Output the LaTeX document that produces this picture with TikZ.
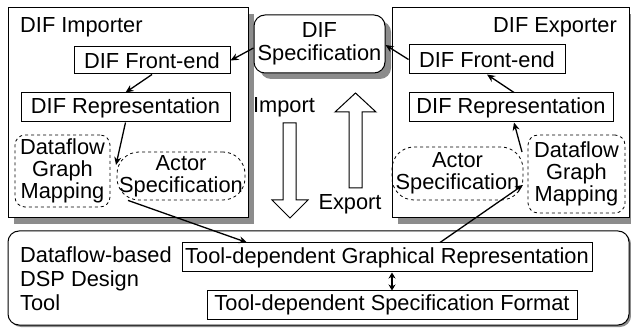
\documentclass[tikz,border=0pt]{standalone}
\usepackage{fontspec}
\setmainfont{Liberation Sans}
\usetikzlibrary{arrows.meta,calc,shadows}
\begin{document}
\begin{tikzpicture}[x=1pt,y=-1pt,
  txt/.style={font=\fontsize{21.8}{23}\selectfont, inner sep=0pt},
  box/.style={draw, line width=1pt, inner sep=0pt, font=\fontsize{21.8}{23}\selectfont, align=center},
  frame/.style={draw, line width=1pt, fill=white, inner sep=0pt,
     drop shadow={shadow xshift=6pt, shadow yshift=-6pt, fill=black!45, opacity=1}},
  dbox/.style={draw, dashed, line width=0.8pt, inner sep=0pt, align=center, font=\fontsize{21.8}{22}\selectfont},
  arr/.style={line width=1.3pt, -{Stealth[length=8pt,width=7pt]}},
  hollow/.style={draw, line width=1pt, fill=white},
]
\useasboundingbox (0,0) rectangle (631,328);
% frames
\node[frame, minimum width=240pt, minimum height=210pt] (imp) at (128,113) {};
\node[frame, minimum width=237pt, minimum height=210pt] (exp) at (510.5,113) {};
\node[frame, rounded corners=11pt, minimum width=131pt, minimum height=58pt, align=center,
      font=\fontsize{21.8}{23}\selectfont] (spec) at (319.5,44) {DIF\\Specification};
\node[draw, line width=1pt, fill=white, rounded corners=11pt, minimum width=621pt, minimum height=94pt,
      drop shadow={shadow xshift=2pt, shadow yshift=-2pt, fill=black!45, opacity=1}] (tool) at (318.5,278) {};
% frame labels
\node[txt, anchor=west] (implab) at (20,27) {DIF Importer};
\node[txt, anchor=east] (explab) at (617,27) {DIF Exporter};
\node[txt, anchor=west, align=left, font=\fontsize{21.8}{24}\selectfont] (toollab) at (20,279) {Dataflow-based\\DSP Design\\Tool};
% importer
\node[box, minimum width=156pt, minimum height=27pt] (lfe) at (152,60.5) {DIF Front-end};
\node[box, minimum width=209pt, minimum height=29pt] (lrep) at (125.5,107.5) {DIF Representation};
\node[dbox, rounded corners=10pt, minimum width=95pt, minimum height=72pt] (ldgm) at (62.5,171) {Dataflow\\Graph\\Mapping};
\node[dbox, rounded corners=22pt, minimum width=128pt, minimum height=48pt] (lact) at (181,176) {Actor\\Specification};
% exporter
\node[box, minimum width=156pt, minimum height=29pt] (rfe) at (487,59.5) {DIF Front-end};
\node[box, minimum width=204pt, minimum height=29pt] (rrep) at (511,107.5) {DIF Representation};
\node[dbox, rounded corners=22pt, minimum width=131pt, minimum height=53pt] (ract) at (457.5,173.5) {Actor\\Specification};
\node[dbox, rounded corners=10pt, minimum width=97pt, minimum height=78pt] (rdgm) at (576.5,174) {Dataflow\\Graph\\Mapping};
% tool boxes
\node[box, minimum width=410pt, minimum height=29pt] (tgr) at (387,257.5) {Tool-dependent Graphical Representation};
\node[box, minimum width=370pt, minimum height=28pt] (tsf) at (392,305) {Tool-dependent Specification Format};
% hollow arrows
\draw[hollow] (283,123) -- (296,123) -- (296,200) -- (308,200) -- (290,218) -- (272,200) -- (283,200) -- cycle;
\draw[hollow] (349,188) -- (362,188) -- (362,112) -- (376,112) -- (355.5,93) -- (335,112) -- (349,112) -- cycle;
\node[txt] (implbl) at (284,107) {Import};
\node[txt] (explbl) at (350,204) {Export};
% connectors
\coordinate (lgap) at (116,165);
\coordinate (rgap) at (523,185);
\coordinate (rgap2) at (522,152);
\draw[arr] ([yshift=-4pt]spec.west) -- (lfe.east);
\draw[arr] (lfe.south) -- (lrep.north);
\draw[arr] (lrep.south) -- (lgap);
\draw[arr] ($(lact.south)+(-53,0)$) -- ($(tgr.north)+(-140,0)$);
\draw[arr] ($(tgr.north)+(53,0)$) -- (rgap);
\draw[arr] (rgap2) -- ($(rrep.south)+(3,0)$);
\draw[arr] ($(rrep.north)+(3,0)$) -- (rfe.south);
\draw[arr] (rfe.west) -- ([yshift=-1pt]spec.east);
\draw[line width=1.3pt, {Stealth[length=6pt,width=7pt]}-{Stealth[length=6pt,width=7pt]}] (tgr.south -| tsf.north) -- (tsf.north);
\end{tikzpicture}
\end{document}
